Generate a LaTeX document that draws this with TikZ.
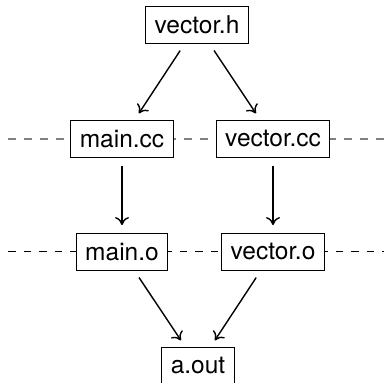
\documentclass[tikz,border=0pt]{standalone}
\usepackage{fontspec}
\setmainfont{TeX Gyre Heros}
\usetikzlibrary{arrows, arrows.meta}

\begin{document}
\begin{tikzpicture}[x=0.5pt, y=0.5pt,
    file/.style={draw, fill=white, inner xsep=4.5pt, inner ysep=0pt, minimum height=18.5pt, font=\fontsize{12.25}{14}\selectfont},
    dep/.style={-{To[length=4pt, width=7pt]}, line width=0.7pt, shorten >=4pt, shorten <=4pt}]
      \useasboundingbox (0, 0) rectangle (384, -383);
      \clip (0, 0) rectangle (384, -383);

      \coordinate (l1) at (8, -139);
      \coordinate (r1) at (384, -139);
      \coordinate (l2) at (8, -252);
      \coordinate (r2) at (384, -252);
      \draw[gray, line width=0.75pt, dash pattern=on 4pt off 4pt] (l1) -- (r1);
      \draw[black, line width=0.5pt, dash pattern=on 3.8pt off 4pt] (l2) -- (r2);

      \node[file] (vech) at (197, -25) {vector.h};
      \node[file] (maincc) at (122, -139) {main.cc};
      \node[file] (veccc) at (273, -139) {vector.cc};
      \node[file] (maino) at (122, -252) {main.o};
      \node[file] (veco) at (273, -252) {vector.o};
      \node[file] (aout) at (198, -366) {a.out};

      \draw[dep] (vech) -- (maincc);
      \draw[dep] (vech) -- (veccc);
      \draw[dep] (maincc) -- (maino);
      \draw[dep] (veccc) -- (veco);
      \draw[dep] (maino) -- (aout);
      \draw[dep] (veco) -- (aout);
    \end{tikzpicture}
\end{document}
